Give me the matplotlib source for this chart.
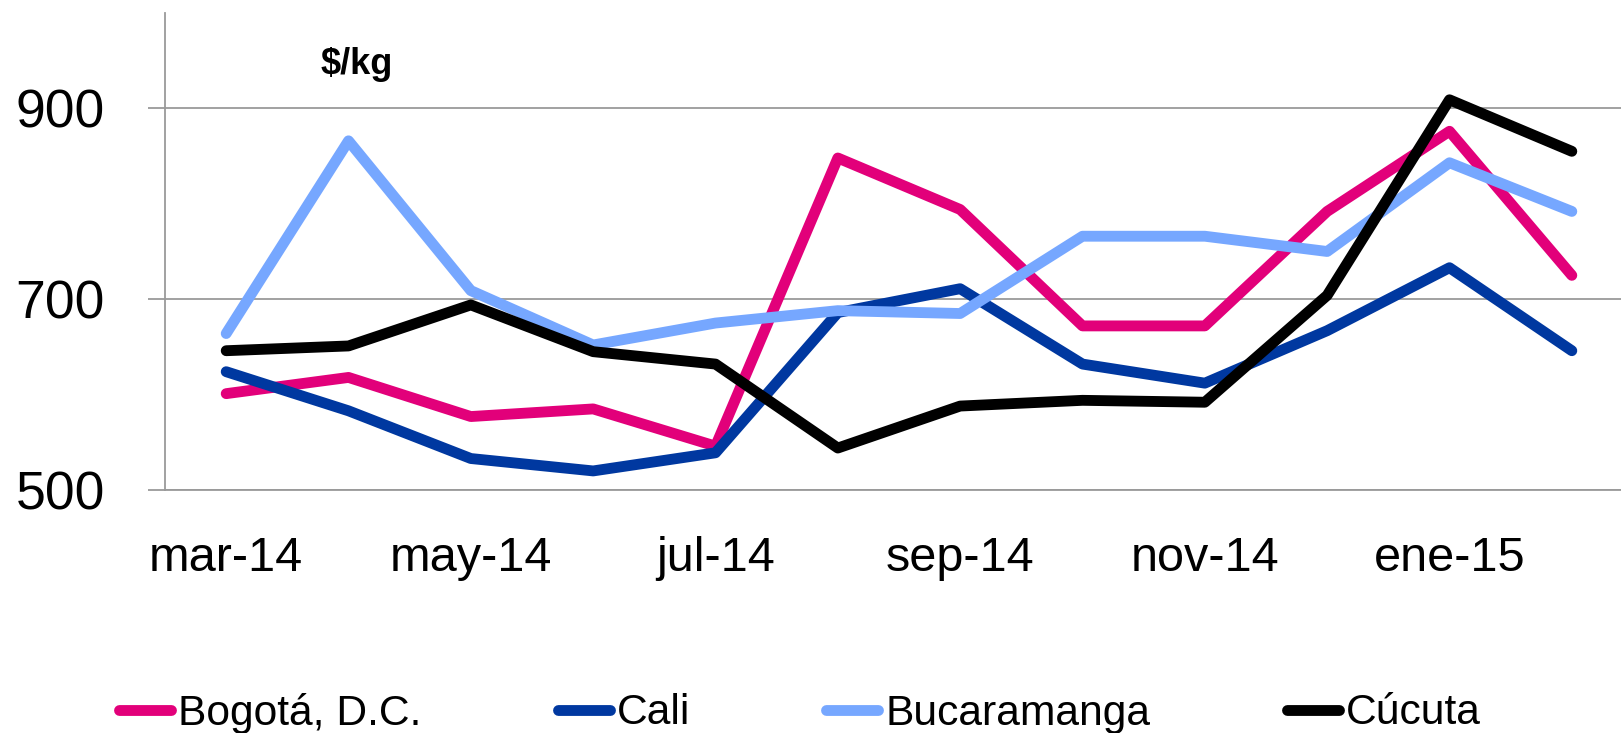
import matplotlib
matplotlib.use("Agg")
import matplotlib.pyplot as plt

plt.rcParams["font.family"] = ["Liberation Sans", "DejaVu Sans"]

# precios mensuales ($/kg)
months = ["mar-14", "abr-14", "may-14", "jun-14", "jul-14", "ago-14",
          "sep-14", "oct-14", "nov-14", "dic-14", "ene-15", "feb-15"]
bogota = [601, 618, 577, 585, 546, 848, 794, 672, 672, 792, 876, 725]
cali = [624, 583, 533, 520, 539, 686, 711, 632, 612, 667, 733, 646]
bucaramanga = [664, 866, 709, 652, 675, 688, 685, 766, 766, 750, 843, 792]
cucuta = [646, 651, 694, 645, 632, 544, 588, 594, 592, 704, 909, 855]

series = [
    ("Bogotá, D.C.", bogota, "#E2007A"),
    ("Cali", cali, "#0038A0"),
    ("Bucaramanga", bucaramanga, "#76A7FF"),
    ("Cúcuta", cucuta, "#000000"),
]
GRID = "#9a9a9a"

fig = plt.figure(figsize=(16.21, 7.33), dpi=100)
ax = fig.add_axes([0.1018, 0.3315, 0.9056, 0.6508])

x = list(range(len(months)))
for name, vals, col in series:
    ax.plot(x, vals, color=col, linewidth=7.8, label=name,
            solid_capstyle="round", solid_joinstyle="round", zorder=3)

ax.set_xlim(-0.5, len(months) - 0.5)
ax.set_ylim(500, 1000)
ax.set_yticks([500, 700, 900])
ax.set_xticks(x[::2])
ax.set_xticklabels(months[::2])

ax.grid(axis="y", color=GRID, linewidth=1.3, zorder=0)
for s in ["top", "right"]:
    ax.spines[s].set_visible(False)
ax.spines["left"].set_color(GRID)
ax.spines["left"].set_linewidth(1.3)
ax.spines["bottom"].set_color(GRID)
ax.spines["bottom"].set_linewidth(1.3)

ax.tick_params(axis="y", length=12.2, width=1.3, color=GRID, pad=31, labelsize=38.5)
ax.tick_params(axis="x", length=0, pad=33, labelsize=35)

fig.text(357 / 1621, 1 - 64 / 733, "$/kg", fontsize=26, fontweight="bold",
         ha="center", va="center")

fig.legend(loc="center left", bbox_to_anchor=(119 / 1621, 1 - 713 / 733),
           bbox_transform=fig.transFigure, ncol=4, frameon=False, fontsize=30.7,
           handlelength=1.22, handletextpad=0.16, columnspacing=3.2,
           borderpad=0, borderaxespad=0)

fig.savefig("out.png", dpi=100, facecolor="white")
